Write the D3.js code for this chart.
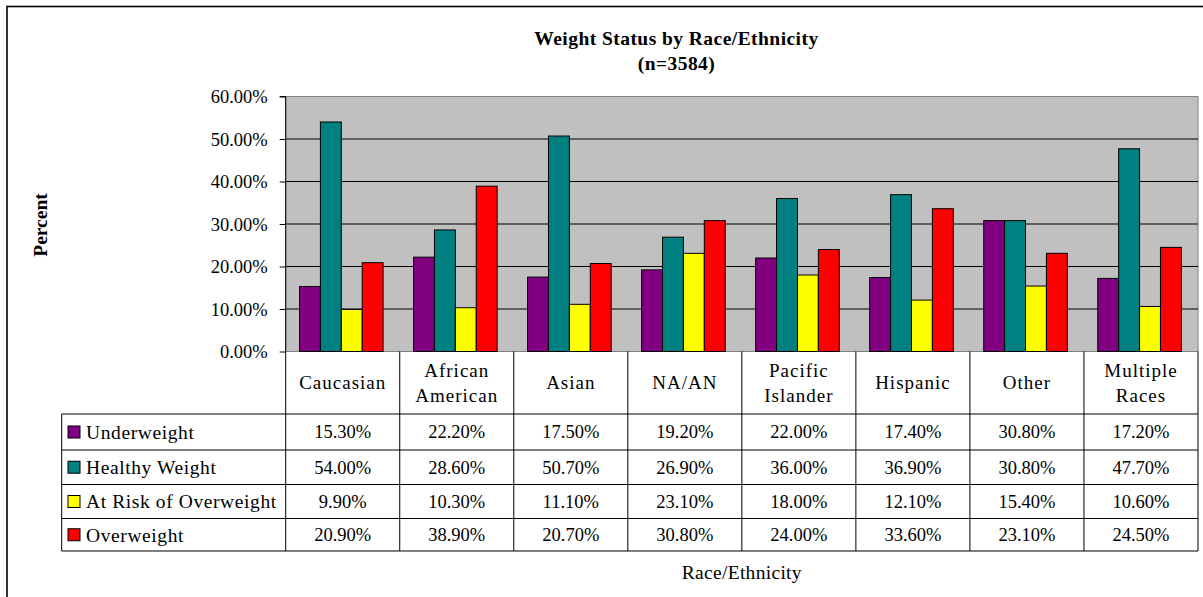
<!DOCTYPE html>
<html><head><meta charset="utf-8">
<script src="https://cdn.jsdelivr.net/npm/d3@7/dist/d3.min.js"></script>
<style>
html,body{margin:0;padding:0;background:#fff;}
svg{display:block;font-family:"Liberation Serif","Times New Roman",serif;}
</style></head>
<body>
<svg id="chart" width="1203" height="597"></svg>
<script>
const categories = ["Caucasian", "African American", "Asian", "NA/AN", "Pacific Islander", "Hispanic", "Other", "Multiple Races"];
const categoryLines = [["Caucasian"], ["African", "American"], ["Asian"], ["NA/AN"], ["Pacific", "Islander"], ["Hispanic"], ["Other"], ["Multiple", "Races"]];
const seriesNames = ["Underweight", "Healthy Weight", "At Risk of Overweight", "Overweight"];
const underweight = [15.3, 22.2, 17.5, 19.2, 22.0, 17.4, 30.8, 17.2];
const healthyWeight = [54.0, 28.6, 50.7, 26.9, 36.0, 36.9, 30.8, 47.7];
const atRisk = [9.9, 10.3, 11.1, 23.1, 18.0, 12.1, 15.4, 10.6];
const overweight = [20.9, 38.9, 20.7, 30.8, 24.0, 33.6, 23.1, 24.5];
const yTicks = [0, 10, 20, 30, 40, 50, 60];
const colors = ["#800080", "#008080", "#ffff00", "#ff0000"];

const seriesValues = [underweight, healthyWeight, atRisk, overweight];

const svg = d3.select("#chart");
const plotL = 285.7, plotR = 1198, plotT = 96.5, plotB = 351.5;
const tableL = 61.7;
const rowEdges = [414, 450, 484.5, 518.5, 551];

// outer border
svg.append("rect").attr("x", 7).attr("y", 6.5).attr("width", 1300).attr("height", 700)
  .attr("fill", "none").attr("stroke", "#000").attr("stroke-width", 1.6);

const x = d3.scaleBand().domain(categories).range([plotL, plotR]).padding(0);
const x1 = d3.scaleBand().domain(seriesNames).range([13.8, 13.8 + 83.6]).padding(0);
const y = d3.scaleLinear().domain([0, 60]).range([plotB, plotT]);

// plot background
svg.append("rect").attr("x", plotL).attr("y", plotT).attr("width", plotR - plotL).attr("height", plotB - plotT)
  .attr("fill", "#c0c0c0").attr("stroke", "#808080").attr("stroke-width", 1);

// gridlines
svg.append("g").selectAll("line").data(yTicks.filter(d => d > 0 && d < 60)).join("line")
  .attr("x1", plotL).attr("x2", plotR).attr("y1", d => y(d)).attr("y2", d => y(d))
  .attr("stroke", "#000").attr("stroke-width", 1);

// bars
const groups = svg.append("g").selectAll("g").data(categories).join("g")
  .attr("transform", d => `translate(${x(d)},0)`);
groups.selectAll("rect").data((c, i) => seriesNames.map((s, j) => ({s, v: seriesValues[j][i], j}))).join("rect")
  .attr("x", d => x1(d.s)).attr("width", x1.bandwidth())
  .attr("y", d => y(d.v)).attr("height", d => plotB - y(d.v))
  .attr("fill", d => colors[d.j]).attr("stroke", "#000").attr("stroke-width", 1);

// y axis
const yAxis = d3.axisLeft(y).tickValues(yTicks).tickSize(6).tickPadding(12)
  .tickFormat(d => d.toFixed(2) + "%");
const ga = svg.append("g").attr("transform", `translate(${plotL},0)`).call(yAxis);
ga.select(".domain").attr("stroke", "#000").attr("d", `M-6,${plotT}H0V${plotB}`);
ga.selectAll(".tick line").attr("stroke", "#000");
ga.selectAll(".tick text").attr("font-size", 18.5).attr("font-family", "Liberation Serif").attr("fill", "#000").attr("dy", "0.34em");

// data table
const tg = svg.append("g");
const lineAttr = sel => sel.attr("stroke", "#000").attr("stroke-width", 1);
// vertical column separators
tg.selectAll("line.v").data(categories.concat(["__end"])).join("line").attr("class", "v")
  .attr("x1", (d, i) => i < categories.length ? x(d) : plotR).attr("x2", (d, i) => i < categories.length ? x(d) : plotR)
  .attr("y1", plotB).attr("y2", rowEdges[4]).call(lineAttr);
// horizontal lines
tg.selectAll("line.h").data(rowEdges).join("line").attr("class", "h")
  .attr("x1", tableL).attr("x2", plotR).attr("y1", d => d).attr("y2", d => d).call(lineAttr);
tg.append("line").attr("x1", tableL).attr("x2", tableL).attr("y1", rowEdges[0]).attr("y2", rowEdges[4]).call(lineAttr);

// category labels
categoryLines.forEach((lines, i) => {
  const cx = x(categories[i]) + x.bandwidth() / 2;
  const cy = (plotB + rowEdges[0]) / 2;
  const t = tg.append("text").attr("x", cx).attr("text-anchor", "middle").attr("font-size", 19)
    .attr("letter-spacing", 1).attr("fill", "#000");
  lines.forEach((ln, k) => {
    t.append("tspan").attr("x", cx).attr("y", cy + (k - (lines.length - 1) / 2) * 25).attr("dy", "0.35em").text(ln);
  });
});

// legend rows and values
seriesNames.forEach((s, j) => {
  const cy = (rowEdges[j] + rowEdges[j + 1]) / 2;
  tg.append("rect").attr("x", 68).attr("y", cy - 6).attr("width", 12).attr("height", 12)
    .attr("fill", colors[j]).attr("stroke", "#000").attr("stroke-width", 1);
  tg.append("text").attr("x", 86).attr("y", cy).attr("dy", "0.35em").attr("font-size", 19.5)
    .attr("letter-spacing", 0.6).attr("fill", "#000").text(s);
  categories.forEach((c, i) => {
    tg.append("text").attr("x", x(c) + x.bandwidth() / 2).attr("y", cy).attr("dy", "0.35em")
      .attr("text-anchor", "middle").attr("font-size", 18.5).attr("fill", "#000")
      .text(seriesValues[j][i].toFixed(2) + "%");
  });
});

// titles
svg.append("text").attr("x", 676.5).attr("y", 38).attr("dy", "0.35em").attr("text-anchor", "middle")
  .attr("font-size", 19.5).attr("font-weight", "bold").attr("letter-spacing", 0.45).text("Weight Status by Race/Ethnicity");
svg.append("text").attr("x", 676.5).attr("y", 63).attr("dy", "0.35em").attr("text-anchor", "middle")
  .attr("font-size", 19.5).attr("font-weight", "bold").attr("letter-spacing", 0.45).text("(n=3584)");
svg.append("text").attr("transform", "translate(40,225) rotate(-90)").attr("dy", "0.35em").attr("text-anchor", "middle")
  .attr("font-size", 19.5).attr("font-weight", "bold").text("Percent");
svg.append("text").attr("x", (plotL + plotR) / 2).attr("y", 572).attr("dy", "0.35em").attr("text-anchor", "middle")
  .attr("font-size", 19.5).attr("letter-spacing", 0.3).text("Race/Ethnicity");
</script>
</body></html>
